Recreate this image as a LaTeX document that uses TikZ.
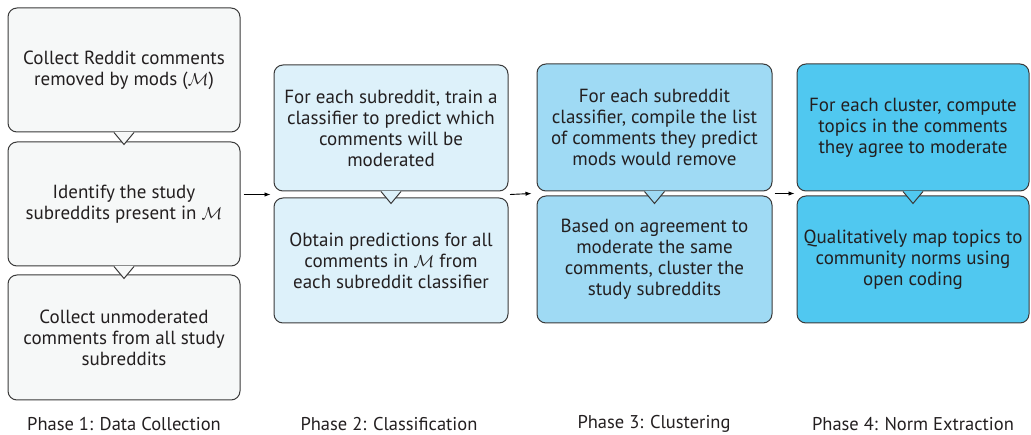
\documentclass[tikz,border=0pt]{standalone}
\usepackage{fontspec}
\setmainfont{PT Sans}
\usetikzlibrary{arrows.meta,calc}
\definecolor{cA}{HTML}{F6F8F8}
\definecolor{cB}{HTML}{DDF1FA}
\definecolor{cC}{HTML}{9FDAF4}
\definecolor{cD}{HTML}{50C8F0}
\definecolor{bordc}{HTML}{3A3A3A}
\definecolor{txt}{HTML}{231F20}
\newcommand\callptr[3]{%
  \fill[#2] ([xshift=-10pt,yshift=0.7pt]#1.south) -- ([xshift=10pt,yshift=0.7pt]#1.south) -- ([yshift=-#3]#1.south) -- cycle;
  \draw[bordc,line width=1pt,line join=miter] ([xshift=-10pt]#1.south) -- ([yshift=-#3]#1.south) -- ([xshift=10pt]#1.south);}
\begin{document}
\begin{tikzpicture}[x=1pt,y=-1pt,
  box/.style={draw=bordc, line width=1pt, rounded corners=9pt, align=center,
    font=\fontsize{19}{21}\selectfont, text=txt, inner sep=0pt},
  colA/.style={box, fill=cA, minimum width=232pt},
  colB/.style={box, fill=cB, minimum width=234pt},
  colC/.style={box, fill=cC, minimum width=235pt},
  colD/.style={box, fill=cD, minimum width=232pt},
  phase/.style={font=\fontsize{18.5}{20}\selectfont, text=txt, inner sep=0pt},
  flow/.style={-{Latex[length=6pt,width=4.5pt]}, line width=0.9pt, black}]
\useasboundingbox (0,0) rectangle (1031,435);

% Phase 1
\node[colA, minimum height=124pt] (p1a) at (124,70) {Collect Reddit comments\\removed by mods ($\mathcal{M}$)};
\node[colA, minimum height=124pt] (p1b) at (124,204) {Identify the study\\subreddits present in $\mathcal{M}$};
\node[colA, minimum height=125pt] (p1c) at (124,337.5) {Collect unmoderated\\comments from all study\\subreddits};
\callptr{p1a}{cA}{12pt}
\callptr{p1b}{cA}{12pt}

% Phase 2
\node[colB, minimum height=126pt] (p2a) at (391,128) {For each subreddit, train a\\classifier to predict which\\comments will be\\moderated};
\node[colB, minimum height=125pt] (p2b) at (391,260.5) {Obtain predictions for all\\comments in $\mathcal{M}$ from\\each subreddit classifier};
\callptr{p2a}{cB}{12pt}

% Phase 3
\node[colC, minimum height=127pt] (p3a) at (654.5,127.5) {For each subreddit\\classifier, compile the list\\of comments they predict\\mods would remove};
\node[colC, minimum height=127pt] (p3b) at (654.5,259.5) {Based on agreement to\\moderate the same\\comments, cluster the\\study subreddits};
\callptr{p3a}{cC}{12pt}

% Phase 4
\node[colD, minimum height=127pt] (p4a) at (913,127.5) {For each cluster, compute\\topics in the comments\\they agree to moderate};
\node[colD, minimum height=127pt] (p4b) at (913,259.5) {Qualitatively map topics to\\community norms using\\open coding};
\callptr{p4a}{cD}{12pt}

% gap coordinates
\coordinate (g2) at ($(p2a.south west)!0.5!(p2b.north west)$);
\coordinate (g3) at ($(p3a.south west)!0.5!(p3b.north west)$);
\coordinate (g4) at ($(p4a.south west)!0.5!(p4b.north west)$);
\coordinate (e2) at ($(p2a.south east)!0.5!(p2b.north east)$);
\coordinate (e3) at ($(p3a.south east)!0.5!(p3b.north east)$);

\draw[flow] ([xshift=3pt]p1b.east |- g2) -- ([xshift=-3pt]g2);
\draw[flow] ([xshift=1.5pt]e2) -- ([xshift=-5pt]g3);
\draw[flow] ([xshift=2pt]e3) -- ([xshift=-2pt]g4);

% labels
\node[phase] (l1) at (124,424) {Phase 1: Data Collection};
\node[phase] (l2) at (389,424) {Phase 2: Classification};
\node[phase] (l3) at (654,424) {Phase 3: Clustering};
\node[phase] (l4) at (913,424) {Phase 4: Norm Extraction};
\end{tikzpicture}
\end{document}
